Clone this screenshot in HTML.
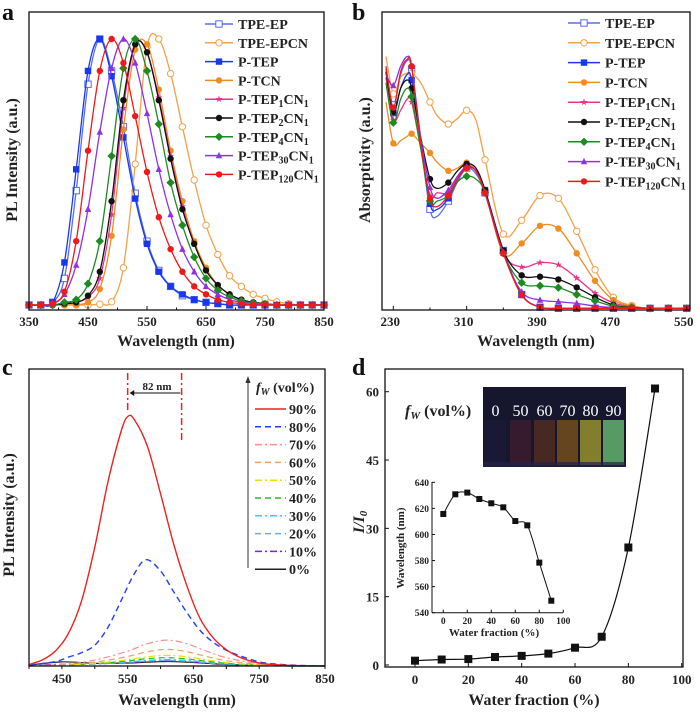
<!DOCTYPE html>
<html><head><meta charset="utf-8"><style>
html,body{margin:0;padding:0;background:#fff}
svg{display:block;font-family:"Liberation Serif",serif;font-weight:bold}
</style></head><body>
<svg id="fig" width="700" height="713" viewBox="0 0 700 713" xmlns="http://www.w3.org/2000/svg">
<g id="ga"></g>
<g id="gb"></g>
<g id="gc"></g>
<g id="gd"></g>
</svg>
<script>
// ---------- Panel a data ----------
const aWl = [350,370,390,410,430,450,470,490,510,530,550,570,590,610,630,650,670,690,710,730,750,770,790,810,830,850];
const aTPEEP = [0,0,0.01,0.10,0.43,0.83,1.0,0.88,0.67,0.42,0.24,0.13,0.07,0.035,0.02,0.01,0.005,0,0,0,0,0,0,0,0,0];
const aTPEEPCN = [0,0,0,0,0,0,0.003,0.012,0.14,0.53,0.97,1.0,0.87,0.67,0.47,0.30,0.19,0.11,0.07,0.04,0.025,0.012,0.005,0,0,0];
const aPTEP = [0,0,0.01,0.16,0.51,0.88,1.0,0.86,0.63,0.40,0.23,0.125,0.07,0.04,0.02,0.01,0.005,0,0,0,0,0,0,0,0,0];
const aPTCN = [0,0,0,0,0.002,0.01,0.06,0.26,0.66,0.96,0.98,0.81,0.58,0.39,0.24,0.14,0.075,0.04,0.02,0.01,0.005,0,0,0,0,0];
const aP1 = [0,0,0,0.005,0.01,0.03,0.10,0.34,0.74,0.98,0.95,0.78,0.56,0.37,0.23,0.13,0.075,0.04,0.02,0.01,0.005,0,0,0,0,0];
const aP2 = [0,0,0,0.005,0.01,0.035,0.125,0.39,0.77,0.98,0.95,0.77,0.55,0.36,0.23,0.13,0.075,0.04,0.02,0.01,0.005,0,0,0,0,0];
const aP4 = [0,0,0,0.01,0.02,0.08,0.24,0.56,0.89,1.0,0.88,0.68,0.46,0.30,0.18,0.10,0.055,0.03,0.015,0.008,0.004,0,0,0,0,0];
const aP30 = [0,0,0.005,0.04,0.15,0.36,0.65,0.89,1.0,0.91,0.72,0.51,0.34,0.21,0.125,0.07,0.04,0.02,0.01,0.005,0,0,0,0,0,0];
const aP120 = [0,0,0.005,0.05,0.24,0.58,0.88,1.0,0.91,0.71,0.50,0.33,0.21,0.125,0.07,0.04,0.02,0.01,0.005,0,0,0,0,0,0,0];
const aTicks = [350,450,550,650,750,850];
// ---------- Panel b data ----------
const bWl = [222,230,238,245,250,260,270,278,290,300,310,320,330,350,370,390,410,430,450,470,490,510,530,550];
const bTPEEP = [0.87,0.74,0.85,0.90,0.87,0.60,0.36,0.335,0.39,0.46,0.51,0.49,0.42,0.21,0.05,0.004,0,0,0,0,0,0,0,0];
const bTPEEPCN = [0.915,0.78,0.84,0.855,0.855,0.82,0.75,0.70,0.67,0.69,0.72,0.685,0.54,0.27,0.32,0.41,0.40,0.28,0.14,0.04,0.01,0,0,0];
const bPTEP = [0.86,0.71,0.80,0.85,0.83,0.60,0.38,0.36,0.40,0.47,0.515,0.50,0.43,0.21,0.05,0.004,0,0,0,0,0,0,0,0];
const bPTCN = [0.75,0.60,0.61,0.625,0.635,0.60,0.565,0.53,0.50,0.51,0.53,0.50,0.43,0.20,0.236,0.30,0.29,0.20,0.10,0.03,0.008,0,0,0];
const bP1 = [0.84,0.685,0.72,0.76,0.75,0.58,0.41,0.42,0.42,0.48,0.515,0.50,0.42,0.20,0.15,0.166,0.158,0.11,0.055,0.02,0.005,0,0,0];
const bP2 = [0.86,0.715,0.80,0.83,0.80,0.62,0.47,0.436,0.457,0.50,0.525,0.51,0.43,0.21,0.12,0.115,0.105,0.076,0.04,0.012,0.003,0,0,0];
const bP4 = [0.82,0.675,0.76,0.80,0.77,0.58,0.39,0.39,0.41,0.46,0.48,0.47,0.42,0.20,0.093,0.082,0.075,0.05,0.027,0.008,0.002,0,0,0];
const bP30 = [0.85,0.81,0.88,0.915,0.88,0.62,0.44,0.40,0.43,0.48,0.515,0.50,0.42,0.20,0.06,0.03,0.024,0.018,0.008,0.003,0,0,0,0];
const bP120 = [0.88,0.73,0.86,0.905,0.88,0.60,0.40,0.37,0.41,0.47,0.51,0.50,0.42,0.20,0.048,0.004,0,0,0,0,0,0,0,0];
const bTicks = [230,310,390,470,550];
// ---------- Panel c data ----------
const cWl90 = [400,420,440,460,480,500,520,540,550,560,580,600,620,640,660,680,700,720,740,760,800,850];
const c90 = [0.005,0.02,0.05,0.11,0.22,0.40,0.62,0.79,0.84,0.83,0.74,0.58,0.41,0.27,0.16,0.095,0.055,0.03,0.015,0.007,0.002,0];
const cWl80 = [400,440,460,480,500,520,540,560,578,600,620,640,660,680,700,720,740,760,800,850];
const c80 = [0.002,0.015,0.03,0.045,0.07,0.13,0.22,0.31,0.358,0.32,0.25,0.18,0.12,0.08,0.053,0.035,0.02,0.01,0.003,0];
const cWl = [400,450,500,550,580,610,640,670,700,750,800,850];
const c70 = [0,0.005,0.02,0.05,0.075,0.087,0.075,0.05,0.028,0.008,0.002,0];
const c60 = [0,0.004,0.013,0.032,0.048,0.056,0.048,0.032,0.018,0.005,0.001,0];
const c50 = [0,0.003,0.009,0.021,0.031,0.036,0.031,0.021,0.012,0.003,0.001,0];
const c40 = [0,0.003,0.008,0.017,0.025,0.028,0.024,0.016,0.009,0.003,0,0];
const c30 = [0,0.003,0.007,0.014,0.019,0.022,0.019,0.013,0.007,0.002,0,0];
const c20 = [0.002,0.004,0.007,0.012,0.017,0.019,0.016,0.011,0.006,0.002,0,0];
const c10 = [0.002,0.006,0.007,0.011,0.015,0.017,0.015,0.010,0.006,0.002,0,0];
const c0 = [0.003,0.014,0.009,0.010,0.013,0.015,0.013,0.009,0.005,0.002,0,0];
const cTicks = [450,550,650,750,850];
// ---------- Panel d data ----------
const dWater = [0,10,20,30,40,50,60,70,80,90];
const dRatio = [0.95,1.2,1.3,1.75,2.0,2.5,3.8,6.2,25.8,60.7];
const dYTicks = [0,15,30,45,60];
const dXTicks = [0,20,40,60,80,100];
const insetWl = [615.7,630.8,632.1,627.2,623.9,620.8,610.3,607,578.4,549.2];
const insetYTicks = [540,560,580,600,620,640];
const insetXTicks = [0,20,40,60,80,100];
const photoLabels = ["0","50","60","70","80","90"];

const NS="http://www.w3.org/2000/svg";
function el(tag,attrs,parent,text){const e=document.createElementNS(NS,tag);for(const k in attrs)e.setAttribute(k,attrs[k]);if(text!==undefined)e.textContent=text;parent.appendChild(e);return e;}
function smooth(pts){if(pts.length<2)return"";let d="M"+pts[0][0].toFixed(2)+","+pts[0][1].toFixed(2);
 for(let i=0;i<pts.length-1;i++){const p0=pts[i-1]||pts[i],p1=pts[i],p2=pts[i+1],p3=pts[i+2]||p2;
  const c1=[p1[0]+(p2[0]-p0[0])/6,p1[1]+(p2[1]-p0[1])/6],c2=[p2[0]-(p3[0]-p1[0])/6,p2[1]-(p3[1]-p1[1])/6];
  d+=" C"+c1[0].toFixed(2)+","+c1[1].toFixed(2)+" "+c2[0].toFixed(2)+","+c2[1].toFixed(2)+" "+p2[0].toFixed(2)+","+p2[1].toFixed(2);}return d;}
function marker(g,type,x,y,color,s){s=s||3.2;let m;
 if(type==="sqo")m=el("rect",{x:x-s,y:y-s,width:2*s,height:2*s,fill:"#fff",stroke:color,"stroke-width":1},g);
 else if(type==="sq")m=el("rect",{x:x-s,y:y-s,width:2*s,height:2*s,fill:color},g);
 else if(type==="cio")m=el("circle",{cx:x,cy:y,r:s,fill:"#fff",stroke:color,"stroke-width":1},g);
 else if(type==="ci")m=el("circle",{cx:x,cy:y,r:s,fill:color},g);
 else if(type==="di")m=el("polygon",{points:`${x},${y-s-1} ${x+s+1},${y} ${x},${y+s+1} ${x-s-1},${y}`,fill:color},g);
 else if(type==="tri")m=el("polygon",{points:`${x},${y-s-0.5} ${x+s},${y+s-0.5} ${x-s},${y+s-0.5}`,fill:color},g);
 else {let p=[];for(let i=0;i<10;i++){const r=i%2?s*0.45:s+0.6,a=-Math.PI/2+i*Math.PI/5;p.push((x+r*Math.cos(a)).toFixed(2)+","+(y+r*Math.sin(a)).toFixed(2));}m=el("polygon",{points:p.join(" "),fill:color},g);}
 return m;}

// ====== Panel a ======
(function(){
 const g=document.getElementById("ga");
 const X0=29,X1=324,T=12,B=310,Y0=305,Y1=39;
 const xs=v=>X0+(v-350)/(500)*(X1-X0), ys=v=>Y0-v*(Y0-Y1);
 const series=[["TPE-EP",aTPEEP,"#5a6cf2","sqo"],["TPE-EPCN",aTPEEPCN,"#f5a04a","cio"],["P-TEP",aPTEP,"#1838f0","sq"],["P-TCN",aPTCN,"#f08c22","ci"],["P-TEP1CN1",aP1,"#f0308a","st"],["P-TEP2CN1",aP2,"#111","ci"],["P-TEP4CN1",aP4,"#1d8a22","di"],["P-TEP30CN1",aP30,"#9030e8","tri"],["P-TEP120CN1",aP120,"#f01818","ci"]];
 const lbl=[["TPE-EP"],["TPE-EPCN"],["P-TEP"],["P-TCN"],["P-TEP","1","CN","1"],["P-TEP","2","CN","1"],["P-TEP","4","CN","1"],["P-TEP","30","CN","1"],["P-TEP","120","CN","1"]];
 series.forEach((s,i)=>{
  const sg=el("g",{},g);
  
  
  const pts=aWl.map((w,j)=>[xs(w),ys(s[1][j])]);
  const p=el("path",{d:smooth(pts),fill:"none",stroke:s[2],"stroke-width":1.3},sg);
  
  
  pts.forEach(q=>{const m=marker(sg,s[3],q[0],q[1],s[2]);
   
   });
  const ly=24+i*18.8;
  const lg=el("g",{},g);
  
  
  el("line",{x1:205,y1:ly,x2:233,y2:ly,stroke:s[2],"stroke-width":1.5},lg);
  marker(lg,s[3],219,ly,s[2]);
  const t=el("text",{x:238,y:ly+5,"font-size":14,fill:"#222"},lg);
  lbl[i].forEach((part,k)=>{const ts=el("tspan",k%2?{"font-size":10,dy:3}:(k>0?{dy:-3}:{}),t,part);});
 });
 const fr=el("rect",{x:X0,y:T,width:X1-X0,height:B-T,fill:"none",stroke:"#111","stroke-width":1.3},g);
 
 for(let v=350;v<=850;v+=50){const x=xs(v);el("line",{x1:x,y1:B,x2:x,y2:B-(v%100==50?4:2.5)+(v%100==50?0:0),stroke:"#111","stroke-width":1},g);}
 aTicks.forEach(v=>{const t=el("text",{x:xs(v),y:326,"text-anchor":"middle","font-size":13,fill:"#222"},g,v);
  });
 let t=el("text",{x:176,y:346,"text-anchor":"middle","font-size":16,fill:"#222"},g,"Wavelength (nm)");
 
 t=el("text",{x:0,y:0,transform:"translate(17,160) rotate(-90)","text-anchor":"middle","font-size":16,fill:"#222"},g,"PL Intensity (a.u.)");
 
 t=el("text",{x:2,y:20,"font-size":24,fill:"#111"},g,"a");
 
})();

// ====== Panel b ======
(function(){
 const g=document.getElementById("gb");
 const X0=382,X1=690,T=12,B=310;
 const xs=v=>393.3+(v-230)*0.917, ys=v=>308.3-v*275;
 const series=[["TPE-EP",bTPEEP,"#5a6cf2","sqo"],["TPE-EPCN",bTPEEPCN,"#f5a04a","cio"],["P-TEP",bPTEP,"#1838f0","sq"],["P-TCN",bPTCN,"#f08c22","ci"],["P-TEP1CN1",bP1,"#f0308a","st"],["P-TEP2CN1",bP2,"#111","ci"],["P-TEP4CN1",bP4,"#1d8a22","di"],["P-TEP30CN1",bP30,"#9030e8","tri"],["P-TEP120CN1",bP120,"#f01818","ci"]];
 const lbl=[["TPE-EP"],["TPE-EPCN"],["P-TEP"],["P-TCN"],["P-TEP","1","CN","1"],["P-TEP","2","CN","1"],["P-TEP","4","CN","1"],["P-TEP","30","CN","1"],["P-TEP","120","CN","1"]];
 series.forEach((s,i)=>{
  const sg=el("g",{},g);
  
  
  const pts=bWl.map((w,j)=>[xs(w),ys(s[1][j])]);
  const p=el("path",{d:smooth(pts),fill:"none",stroke:s[2],"stroke-width":1.3},sg);
  
  
  bWl.forEach((w,j)=>{if((w-230)%20===0){const m=marker(sg,s[3],pts[j][0],pts[j][1],s[2]);
   
   }});
  const ly=23+i*19.8;
  const lg=el("g",{},g);
  
  
  el("line",{x1:568,y1:ly,x2:600,y2:ly,stroke:s[2],"stroke-width":1.5},lg);
  marker(lg,s[3],584,ly,s[2]);
  const t=el("text",{x:605,y:ly+5,"font-size":14,fill:"#222"},lg);
  lbl[i].forEach((part,k)=>{el("tspan",k%2?{"font-size":10,dy:3}:(k>0?{dy:-3}:{}),t,part);});
 });
 const fr=el("rect",{x:X0,y:T,width:X1-X0,height:B-T,fill:"none",stroke:"#111","stroke-width":1.3},g);
 
 for(let v=230;v<=550;v+=40){const x=xs(v);el("line",{x1:x,y1:B,x2:x,y2:B-(v%80==70?4:2.5),stroke:"#111","stroke-width":1},g);}
 bTicks.forEach(v=>{const t=el("text",{x:xs(v)-3,y:326,"text-anchor":"middle","font-size":13,fill:"#222"},g,v);
  });
 let t=el("text",{x:536,y:346,"text-anchor":"middle","font-size":16,fill:"#222"},g,"Wavelength (nm)");
 
 t=el("text",{x:0,y:0,transform:"translate(370,160) rotate(-90)","text-anchor":"middle","font-size":16,fill:"#222"},g,"Absorptivity (a.u.)");
 
 t=el("text",{x:352,y:20,"font-size":24,fill:"#111"},g,"b");
 
})();

// ====== Panel c ======
(function(){
 const g=document.getElementById("gc");
 const X0=29,X1=325,T=369,B=666;
 const xs=v=>X0+(v-400)/450*(X1-X0), ys=v=>B-v*(B-T);
 const series=[["90%",cWl90,c90,"#f02020","none",1.4],["80%",cWl80,c80,"#2040f0","6,4",1.4],["70%",cWl,c70,"#f59090","7,3,2,3",1.2],["60%",cWl,c60,"#f0a060","6,4",1.2],["50%",cWl,c50,"#e8e000","7,3,2,3",1.2],["40%",cWl,c40,"#22bb22","6,4",1.2],["30%",cWl,c30,"#20d8f0","7,3,2,3",1.2],["20%",cWl,c20,"#60b0f0","6,4",1.2],["10%",cWl,c10,"#8020e0","7,3,2,3",1.2],["0%",cWl,c0,"#222","none",1.2]];
 series.slice().reverse().forEach(s=>{
  const pts=s[1].map((w,j)=>[xs(w),ys(s[2][j])]);
  const p=el("path",{d:smooth(pts),fill:"none",stroke:s[3],"stroke-width":s[5],"stroke-dasharray":s[4]},g);
  
  
 });
 series.forEach((s,i)=>{
  const ly=409+i*17.8;
  const lg=el("g",{},g);
  
  
  el("line",{x1:255,y1:ly,x2:286,y2:ly,stroke:s[3],"stroke-width":1.5,"stroke-dasharray":s[4]},lg);
  el("text",{x:289,y:ly+5,"font-size":14,fill:"#222"},lg,s[0]);
 });
 const ar=el("g",{},g);
 el("line",{x1:248,y1:568,x2:248,y2:380,stroke:"#333","stroke-width":1},ar);
 el("polygon",{points:"248,376 245.5,383 250.5,383",fill:"#333"},ar);
 let t=el("text",{x:256,y:392,"font-size":14,fill:"#222"},g);
 
 el("tspan",{"font-style":"italic"},t,"f");el("tspan",{"font-style":"italic","font-size":10,dy:3},t,"W");el("tspan",{dy:-3}, t," (vol%)");
 const ann=el("g",{},g);
 el("line",{x1:xs(550),y1:373,x2:xs(550),y2:410,stroke:"#f02020","stroke-width":1.5,"stroke-dasharray":"7,3,2,3"},ann);
 el("line",{x1:xs(632),y1:373,x2:xs(632),y2:442,stroke:"#f02020","stroke-width":1.5,"stroke-dasharray":"7,3,2,3"},ann);
 el("line",{x1:xs(630),y1:393,x2:xs(556),y2:393,stroke:"#111","stroke-width":1},ann);
 el("polygon",{points:`${xs(553)},393 ${xs(560)},390 ${xs(560)},396`,fill:"#111"},ann);
 el("text",{x:157,y:390,"text-anchor":"middle","font-size":11,fill:"#222"},ann,"82 nm");
 const fr=el("rect",{x:X0,y:T,width:X1-X0,height:B-T,fill:"none",stroke:"#111","stroke-width":1.3},g);
 
 for(let v=400;v<=850;v+=50){const x=xs(v);el("line",{x1:x,y1:B,x2:x,y2:B+3,stroke:"#111","stroke-width":1},g);}
 cTicks.forEach(v=>{const t=el("text",{x:xs(v),y:683,"text-anchor":"middle","font-size":13,fill:"#222"},g,v);
  });
 t=el("text",{x:177,y:705,"text-anchor":"middle","font-size":16,fill:"#222"},g,"Wavelength (nm)");
 
 t=el("text",{x:0,y:0,transform:"translate(14,515) rotate(-90)","text-anchor":"middle","font-size":16,fill:"#222"},g,"PL Intensity (a.u.)");
 
 t=el("text",{x:2,y:375,"font-size":24,fill:"#111"},g,"c");
 
})();

// ====== Panel d ======
(function(){
 const g=document.getElementById("gd");
 const X0=385,X1=683,T=369,B=667;
 const xs=v=>415+v*2.667, ys=v=>665-v*4.555;
 const fr=el("rect",{x:X0,y:T,width:X1-X0,height:B-T,fill:"none",stroke:"#111","stroke-width":1.3},g);
 
 dYTicks.forEach(v=>{el("line",{x1:X0,y1:ys(v),x2:X0+4,y2:ys(v),stroke:"#111"},g);
  const t=el("text",{x:379,y:ys(v)+5,"text-anchor":"end","font-size":13,fill:"#222"},g,v);
  });
 dXTicks.forEach(v=>{el("line",{x1:xs(v),y1:B,x2:xs(v),y2:B-4,stroke:"#111"},g);
  const t=el("text",{x:xs(v),y:684,"text-anchor":"middle","font-size":13,fill:"#222"},g,v);
  });
 let t=el("text",{x:534,y:705,"text-anchor":"middle","font-size":16,fill:"#222"},g,"Water fraction (%)");
 
 t=el("text",{x:0,y:0,transform:"translate(364,522) rotate(-90)","text-anchor":"middle","font-size":16,fill:"#222","font-style":"italic"},g);
 
 el("tspan",{},t,"I/I");el("tspan",{"font-size":11,dy:3},t,"0");
 const pts=dWater.map((w,j)=>[xs(w),ys(dRatio[j])]);
 const p=el("path",{d:smooth(pts),fill:"none",stroke:"#111","stroke-width":1.2},g);
 
 pts.forEach(q=>{const m=el("rect",{x:q[0]-4,y:q[1]-4,width:8,height:8,fill:"#111"},g);
  });
 // photo
 const ph=el("g",{},g);
 el("rect",{x:483,y:387,width:143,height:80,fill:"#16162e"},ph);
 const vc=["#1a1a36","#3a1c30","#4e2a22","#6e4a1e","#8e8a2e","#5ea86a"];
 const vx=[485,510,534,557,580,603];
 vc.forEach((c,i)=>{el("rect",{x:vx[i],y:420,width:21,height:45,fill:c,opacity:0.9},ph);});
 el("rect",{x:483,y:462,width:143,height:5,fill:"#22224a",opacity:0.7},ph);
 photoLabels.forEach((s,i)=>{el("text",{x:vx[i]+10.5,y:416,"text-anchor":"middle","font-size":16,fill:"#fff","font-weight":"normal"},ph,s);});
 t=el("text",{x:405,y:416,"font-size":16,fill:"#222"},g);
 
 el("tspan",{"font-style":"italic"},t,"f");el("tspan",{"font-style":"italic","font-size":11,dy:3},t,"W");el("tspan",{dy:-3},t," (vol%)");
 // inset
 const ig=el("g",{},g);
 const ixs=v=>443.3+v*1.2, iys=v=>612.7-(v-540)*1.304;
 el("line",{x1:432,y1:482,x2:432,y2:612.7,stroke:"#111","stroke-width":1},ig);
 el("line",{x1:432,y1:612.7,x2:563,y2:612.7,stroke:"#111","stroke-width":1},ig);
 insetYTicks.forEach(v=>{el("line",{x1:432,y1:iys(v),x2:435,y2:iys(v),stroke:"#111"},ig);
  const tt=el("text",{x:429,y:iys(v)+3.5,"text-anchor":"end","font-size":9.5,fill:"#222"},ig,v);
  });
 insetXTicks.forEach(v=>{el("line",{x1:ixs(v),y1:612.7,x2:ixs(v),y2:609.7,stroke:"#111"},ig);
  const tt=el("text",{x:ixs(v),y:624,"text-anchor":"middle","font-size":9.5,fill:"#222"},ig,v);
  });
 t=el("text",{x:494,y:636,"text-anchor":"middle","font-size":11,fill:"#222"},ig,"Water fraction (%)");
 
 t=el("text",{x:0,y:0,transform:"translate(404,548) rotate(-90)","text-anchor":"middle","font-size":11,fill:"#222"},ig,"Wavelength (nm)");
 
 const ip=dWater.map((w,j)=>[ixs(w),iys(insetWl[j])]);
 const il=el("path",{d:smooth(ip),fill:"none",stroke:"#111","stroke-width":1},ig);
 
 ip.forEach(q=>{const m=el("rect",{x:q[0]-3,y:q[1]-3,width:6,height:6,fill:"#111"},ig);
  });
 t=el("text",{x:352,y:375,"font-size":24,fill:"#111"},g,"d");
 
})();
</script>
</body></html>
